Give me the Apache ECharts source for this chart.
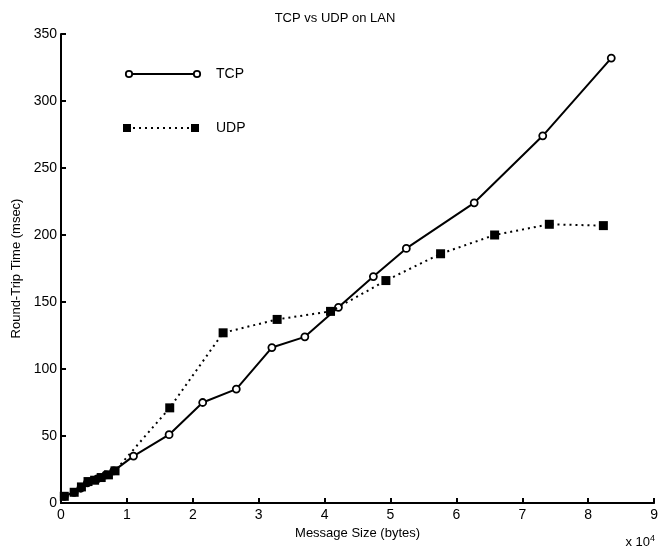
<!DOCTYPE html>
<html><head><meta charset="utf-8">
<script src="https://cdn.jsdelivr.net/npm/echarts@6/dist/echarts.min.js"></script>
<style>html,body{margin:0;padding:0;background:#fff}#c{width:661px;height:554px}</style>
</head><body><div id="c"></div>
<script>
// Message size in units of 10^4 bytes, round-trip time in msec
const tcpX = [0.05, 0.2, 0.3, 0.4, 0.55, 0.68, 0.8, 1.1, 1.64, 2.15, 2.66, 3.2, 3.7, 4.21, 4.74, 5.24, 6.27, 7.31, 8.35];
const tcpY = [5, 8, 11, 15, 18, 21, 24, 35, 51, 75, 85, 116, 124, 146, 169, 190, 224, 274, 332];
const udpX = [0.05, 0.2, 0.31, 0.41, 0.51, 0.61, 0.72, 0.82, 1.65, 2.46, 3.28, 4.09, 4.93, 5.76, 6.58, 7.41, 8.23];
const udpY = [5, 8, 12, 16, 17, 19, 21, 24, 71, 127, 137, 143, 166, 186, 200, 208, 207];
const xTicks = [0, 1, 2, 3, 4, 5, 6, 7, 8, 9];
const yTicks = [0, 50, 100, 150, 200, 250, 300, 350];
const titleText = 'TCP vs UDP on LAN';
const xName = 'Message Size (bytes)';
const yName = 'Round-Trip Time (msec)';
const seriesNames = ['TCP', 'UDP'];

const font = 'Liberation Sans, Arial, Helvetica, sans-serif';
const pairs = (xs, ys) => xs.map((x, i) => [x, ys[i]]);
const chart = echarts.init(document.getElementById('c'));
chart.setOption({
  animation: false,
  backgroundColor: '#fff',
  title: { text: titleText, left: 330, top: 7, textAlign: 'center',
    textStyle: { fontFamily: font, fontSize: 13, fontWeight: 'normal', color: '#000' } },
  grid: { left: 61, right: 3, top: 34, bottom: 51 },
  xAxis: {
    type: 'value', min: xTicks[0], max: xTicks[xTicks.length - 1], interval: 1,
    name: xName, nameLocation: 'middle', nameGap: 17,
    nameTextStyle: { fontFamily: font, fontSize: 13, color: '#000' },
    axisLine: { show: true, lineStyle: { color: '#000', width: 2 } },
    axisTick: { show: true, inside: true, length: 5, lineStyle: { color: '#000', width: 2 } },
    axisLabel: { fontFamily: font, fontSize: 14, color: '#000', margin: 5 },
    splitLine: { show: false }
  },
  yAxis: {
    type: 'value', min: yTicks[0], max: yTicks[yTicks.length - 1], interval: 50,
    name: yName, nameLocation: 'middle', nameGap: 36,
    nameTextStyle: { fontFamily: font, fontSize: 13, color: '#000' },
    axisLine: { show: true, lineStyle: { color: '#000', width: 2 } },
    axisTick: { show: true, inside: true, length: 5, lineStyle: { color: '#000', width: 2 } },
    axisLabel: { fontFamily: font, fontSize: 14, color: '#000', margin: 4 },
    splitLine: { show: false }
  },
  series: [
    { name: seriesNames[0], type: 'line', data: pairs(tcpX, tcpY),
      symbol: 'circle', symbolSize: 7, showAllSymbol: true,
      itemStyle: { color: '#fff', borderColor: '#000', borderWidth: 1.8 },
      lineStyle: { color: '#000', width: 2 }, z: 2 },
    { name: seriesNames[1], type: 'line', data: pairs(udpX, udpY),
      symbol: 'rect', symbolSize: 9, showAllSymbol: true,
      itemStyle: { color: '#000', borderColor: '#000', borderWidth: 0 },
      lineStyle: { color: '#000', width: 2, type: [2, 4] }, z: 3 }
  ],
  graphic: [
    { type: 'line', shape: { x1: 129, y1: 74, x2: 197, y2: 74 }, style: { stroke: '#000', lineWidth: 2 } },
    { type: 'circle', shape: { cx: 129, cy: 74, r: 3.2 }, style: { fill: '#fff', stroke: '#000', lineWidth: 1.8 } },
    { type: 'circle', shape: { cx: 197, cy: 74, r: 3.2 }, style: { fill: '#fff', stroke: '#000', lineWidth: 1.8 } },
    { type: 'text', x: 216, y: 74, style: { text: seriesNames[0], font: '14px ' + font, fill: '#000', verticalAlign: 'middle' } },
    { type: 'line', shape: { x1: 127, y1: 128, x2: 195, y2: 128 }, style: { stroke: '#000', lineWidth: 2, lineDash: [2, 4] } },
    { type: 'rect', shape: { x: 123, y: 124, width: 8, height: 8 }, style: { fill: '#000' } },
    { type: 'rect', shape: { x: 191, y: 124, width: 8, height: 8 }, style: { fill: '#000' } },
    { type: 'text', x: 216, y: 128, style: { text: seriesNames[1], font: '14px ' + font, fill: '#000', verticalAlign: 'middle' } },
    { type: 'text', right: 6, top: 534, style: { text: '{a|x 10}{b|4}', fill: '#000',
      rich: { a: { fontFamily: font, fontSize: 13, color: '#000' }, b: { fontFamily: font, fontSize: 9, color: '#000', verticalAlign: 'top', padding: [0, 0, 8, 0] } } } }
  ]
});
</script></body></html>
